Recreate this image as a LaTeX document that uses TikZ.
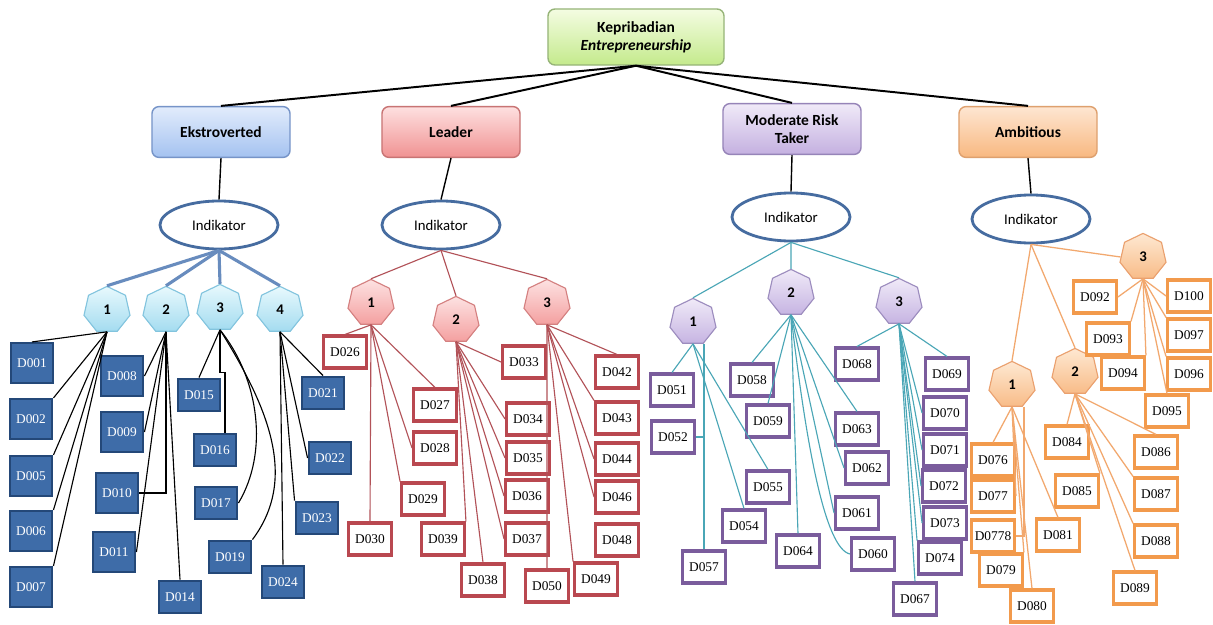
\documentclass[tikz,border=0pt]{standalone}
\usepackage{fontspec}
\setmainfont{Liberation Serif}
\newfontfamily\carlito{Carlito}
\usetikzlibrary{shapes.geometric}

\definecolor{RootTop}{RGB}{244,252,226}
\definecolor{RootBot}{RGB}{196,234,140}
\definecolor{RootLine}{RGB}{150,180,120}
\definecolor{EksTop}{RGB}{226,236,252}
\definecolor{EksBot}{RGB}{164,194,240}
\definecolor{EksLine}{RGB}{118,148,200}
\definecolor{LeadTop}{RGB}{254,224,224}
\definecolor{LeadBot}{RGB}{240,146,146}
\definecolor{LeadLine}{RGB}{200,116,116}
\definecolor{ModTop}{RGB}{240,234,248}
\definecolor{ModBot}{RGB}{196,176,224}
\definecolor{ModLine}{RGB}{150,132,184}
\definecolor{AmbTop}{RGB}{254,230,210}
\definecolor{AmbBot}{RGB}{248,184,128}
\definecolor{AmbLine}{RGB}{222,160,110}
\definecolor{IndLine}{RGB}{70,108,160}
\definecolor{HexBTop}{RGB}{232,249,253}
\definecolor{HexBBot}{RGB}{164,220,240}
\definecolor{HexBLine}{RGB}{130,196,222}
\definecolor{HexRTop}{RGB}{253,226,226}
\definecolor{HexRBot}{RGB}{244,160,160}
\definecolor{HexRLine}{RGB}{212,128,128}
\definecolor{HexPTop}{RGB}{240,234,248}
\definecolor{HexPBot}{RGB}{198,180,226}
\definecolor{HexPLine}{RGB}{156,140,190}
\definecolor{HexOTop}{RGB}{254,232,210}
\definecolor{HexOBot}{RGB}{248,188,136}
\definecolor{HexOLine}{RGB}{234,160,110}
\definecolor{DBlueFill}{RGB}{62,108,168}
\definecolor{DBlueLine}{RGB}{36,72,120}
\definecolor{DRed}{RGB}{185,72,80}
\definecolor{DPurple}{RGB}{122,92,156}
\definecolor{DOrange}{RGB}{242,154,76}
\definecolor{LineBlue}{RGB}{104,140,190}
\definecolor{LineRed}{RGB}{178,82,88}
\definecolor{LineTeal}{RGB}{74,166,182}
\definecolor{LineOrange}{RGB}{242,168,110}

\begin{document}
\begin{tikzpicture}[x=0.025cm, y=-0.025cm,
        rootbox/.style={rectangle, rounded corners=5pt, draw=RootLine, line width=1pt, top color=RootTop, bottom color=RootBot, minimum width=4.4cm, minimum height=1.4cm, align=center, font=\carlito\bfseries\fontsize{11}{13}\selectfont},
        catbox/.style={rectangle, rounded corners=5pt, draw=#1Line, line width=1pt, top color=#1Top, bottom color=#1Bot, minimum width=3.45cm, minimum height=1.27cm, align=center, font=\carlito\bfseries\fontsize{11}{13}\selectfont},
        indik/.style={ellipse, draw=IndLine, line width=2pt, fill=white, minimum width=2.95cm, minimum height=1.2cm, font=\carlito\fontsize{10.5}{12}\selectfont},
        hexa/.style={regular polygon, regular polygon sides=7, draw=Hex#1Line, line width=0.8pt, top color=Hex#1Top, bottom color=Hex#1Bot, minimum size=1.18cm, inner sep=0pt, font=\carlito\bfseries\fontsize{10.5}{12}\selectfont},
        dblue/.style={rectangle, draw=DBlueLine, line width=1.5pt, fill=DBlueFill, text=white, minimum width=1.07cm, minimum height=0.82cm, inner sep=1pt, font=\fontsize{9.5}{11}\selectfont},
        tall/.style={minimum height=1.0cm},
        dbox/.style={rectangle, draw=#1, line width=2.2pt, fill=white, minimum width=1.07cm, minimum height=0.8cm, inner sep=1pt, font=\fontsize{9.5}{11}\selectfont},
        topline/.style={line width=1.4pt, black},
        catline/.style={line width=1pt, black},
        bthick/.style={line width=2.2pt, LineBlue},
        bline/.style={line width=0.8pt, black},
        rline/.style={line width=0.8pt, LineRed},
        tline/.style={line width=0.8pt, LineTeal},
        oline/.style={line width=0.9pt, LineOrange}
    ]
    \useasboundingbox[fill=white] (0,0) rectangle (1213,625);

    \node[rootbox] (root) at (636,37) {Kepribadian\\\textit{Entrepreneurship}};
    \node[catbox=Eks] (eks) at (221,132) {Ekstroverted};
    \node[catbox=Lead] (lead) at (451,132) {Leader};
    \node[catbox=Mod] (mod) at (792,129) {Moderate Risk\\Taker};
    \node[catbox=Amb] (amb) at (1028,132) {Ambitious};
    \node[indik] (ind1) at (219,225) {Indikator};
    \node[indik] (ind2) at (441,225) {Indikator};
    \node[indik] (ind3) at (791,217) {Indikator};
    \node[indik] (ind4) at (1031,219) {Indikator};

    \node[hexa=B] (e1) at (107,310) {1};
    \node[hexa=B] (e2) at (166,310) {2};
    \node[hexa=B] (e3) at (220,308) {3};
    \node[hexa=B] (e4) at (280,310) {4};
    \node[hexa=R] (r1) at (371,303) {1};
    \node[hexa=R] (r2) at (456,320) {2};
    \node[hexa=R] (r3) at (547,303) {3};
    \node[hexa=P] (p1) at (693,322) {1};
    \node[hexa=P] (p2) at (791,293) {2};
    \node[hexa=P] (p3) at (899,302) {3};
    \node[hexa=O] (a1) at (1012,385) {1};
    \node[hexa=O] (a2) at (1075,372) {2};
    \node[hexa=O] (a3) at (1143,257) {3};

    \node[dblue, tall] (D001) at (32,363) {D001};
    \node[dblue, tall] (D002) at (31,419) {D002};
    \node[dblue, tall] (D005) at (31,476) {D005};
    \node[dblue, tall] (D006) at (31,531) {D006};
    \node[dblue, tall] (D007) at (31,587) {D007};
    \node[dblue, tall] (D008) at (122,376) {D008};
    \node[dblue, tall] (D009) at (122,432) {D009};
    \node[dblue, tall] (D010) at (117,493) {D010};
    \node[dblue, tall] (D011) at (114,552) {D011};
    \node[dblue] (D014) at (180,597) {D014};
    \node[dblue] (D015) at (199,395) {D015};
    \node[dblue] (D016) at (215,450) {D016};
    \node[dblue] (D017) at (216,503) {D017};
    \node[dblue] (D019) at (230,557) {D019};
    \node[dblue] (D021) at (323,393) {D021};
    \node[dblue] (D022) at (330,458) {D022};
    \node[dblue] (D023) at (317,518) {D023};
    \node[dblue] (D024) at (283,582) {D024};

    \node[dbox=DRed] (D026) at (345,352) {D026};
    \node[dbox=DRed] (D027) at (435,405) {D027};
    \node[dbox=DRed] (D028) at (435,448) {D028};
    \node[dbox=DRed] (D029) at (423,499) {D029};
    \node[dbox=DRed] (D030) at (370,539) {D030};
    \node[dbox=DRed] (D033) at (524,362) {D033};
    \node[dbox=DRed] (D034) at (528,419) {D034};
    \node[dbox=DRed] (D035) at (528,458) {D035};
    \node[dbox=DRed] (D036) at (527,496) {D036};
    \node[dbox=DRed] (D037) at (527,539) {D037};
    \node[dbox=DRed] (D038) at (483,580) {D038};
    \node[dbox=DRed] (D039) at (443,539) {D039};
    \node[dbox=DRed] (D042) at (617,372) {D042};
    \node[dbox=DRed] (D043) at (617,418) {D043};
    \node[dbox=DRed] (D044) at (617,459) {D044};
    \node[dbox=DRed] (D046) at (617,497) {D046};
    \node[dbox=DRed] (D048) at (617,540) {D048};
    \node[dbox=DRed] (D049) at (596,579) {D049};
    \node[dbox=DRed] (D050) at (547,586) {D050};

    \node[dbox=DPurple] (D051) at (672,390) {D051};
    \node[dbox=DPurple] (D052) at (673,437) {D052};
    \node[dbox=DPurple] (D054) at (744,526) {D054};
    \node[dbox=DPurple] (D055) at (768,487) {D055};
    \node[dbox=DPurple] (D057) at (704,567) {D057};
    \node[dbox=DPurple] (D058) at (752,380) {D058};
    \node[dbox=DPurple] (D059) at (768,421) {D059};
    \node[dbox=DPurple] (D060) at (873,554) {D060};
    \node[dbox=DPurple] (D061) at (857,513) {D061};
    \node[dbox=DPurple] (D062) at (867,468) {D062};
    \node[dbox=DPurple] (D063) at (857,429) {D063};
    \node[dbox=DPurple] (D064) at (798,551) {D064};
    \node[dbox=DPurple] (D067) at (915,599) {D067};
    \node[dbox=DPurple] (D068) at (857,364) {D068};
    \node[dbox=DPurple] (D069) at (947,374) {D069};
    \node[dbox=DPurple] (D070) at (945,413) {D070};
    \node[dbox=DPurple] (D071) at (945,450) {D071};
    \node[dbox=DPurple] (D072) at (944,486) {D072};
    \node[dbox=DPurple] (D073) at (945,523) {D073};
    \node[dbox=DPurple] (D074) at (940,558) {D074};

    \node[dbox=DOrange] (D076) at (993,460) {D076};
    \node[dbox=DOrange] (D077) at (993,496) {D077};
    \node[dbox=DOrange] (D0778) at (993,536) {D0778};
    \node[dbox=DOrange] (D079) at (1001,570) {D079};
    \node[dbox=DOrange] (D080) at (1032,606) {D080};
    \node[dbox=DOrange] (D081) at (1058,535) {D081};
    \node[dbox=DOrange] (D084) at (1067,442) {D084};
    \node[dbox=DOrange] (D085) at (1077,491) {D085};
    \node[dbox=DOrange] (D086) at (1156,452) {D086};
    \node[dbox=DOrange] (D087) at (1156,494) {D087};
    \node[dbox=DOrange] (D088) at (1156,541) {D088};
    \node[dbox=DOrange] (D089) at (1135,588) {D089};
    \node[dbox=DOrange] (D092) at (1095,297) {D092};
    \node[dbox=DOrange] (D093) at (1108,339) {D093};
    \node[dbox=DOrange] (D094) at (1123,373) {D094};
    \node[dbox=DOrange] (D095) at (1167,411) {D095};
    \node[dbox=DOrange] (D096) at (1189,374) {D096};
    \node[dbox=DOrange] (D097) at (1189,335) {D097};
    \node[dbox=DOrange] (D100) at (1189,296) {D100};

    \draw[topline] (root.south) -- (eks.north);
    \draw[topline] (root.south) -- (lead.north);
    \draw[topline] (root.south) -- (mod.north);
    \draw[topline] (root.south) -- (amb.north);
    \draw[catline] (eks.south) -- (ind1.north);
    \draw[catline] (lead.south) -- (ind2.north);
    \draw[catline] (mod.south) -- (ind3.north);
    \draw[catline] (amb.south) -- (ind4.north);

    \draw[bthick] (ind1.south) -- (e1.north);
    \draw[bthick] (ind1.south) -- (e2.north);
    \draw[bthick] (ind1.south) -- (e3.north);
    \draw[bthick] (ind1.south) -- (e4.north);
    \draw[bline] (e1.south) -- (D001.north);
    \draw[bline] (e1.south) -- (D002.north east);
    \draw[bline] (e1.south) -- (D005.north east);
    \draw[bline] (e1.south) -- (D006.north east);
    \draw[bline] (e1.south) -- (D007.north east);
    \draw[bline] (e2.south) -- (D008.east);
    \draw[bline] (e2.south) -- (D009.east);
    \draw[bline] (e2.south) |- (D010.east);
    \draw[bline] (e2.south) -- (D011.east);
    \draw[bline] (e2.south) -- (D014.north);
    \draw[bline] (e3.south) -- (D015.north);
    \draw[bline] (e3.south) -- ++(0,43) -| ([xshift=0.25cm]D016.north);
    \draw[bline] (e3.south) .. controls +(40,50) and +(30,-50) .. (D017.east);
    \draw[bline] (e3.south) .. controls +(50,80) and +(45,-60) .. (D019.north east);
    \draw[bline] (e4.south) -- (D021.north);
    \draw[bline] (e4.south) -- (D022.west);
    \draw[bline] (e4.south) -- (D023.north west);
    \draw[bline] (e4.south) -- (D024.north);

    \draw[rline] (ind2.south) -- (r1.north);
    \draw[rline] (ind2.south) -- (r2.north);
    \draw[rline] (ind2.south) -- (r3.north);
    \draw[rline] (r1.south) -- (D026.north);
    \draw[rline] (r1.south) -- (D027.north);
    \draw[rline] (r1.south) -- (D028.west);
    \draw[rline] (r1.south) -- (D029.north west);
    \draw[rline] (r1.south) -- (D030.north);
    \draw[rline] (r2.south) -- (D033.west);
    \draw[rline] (r2.south) -- (D034.west);
    \draw[rline] (r2.south) -- (D035.west);
    \draw[rline] (r2.south) -- (D036.west);
    \draw[rline] (r2.south) -- (D037.west);
    \draw[rline] (r2.south) -- (D038.north);
    \draw[rline] (r2.south) -- (D039.north east);
    \draw[rline] (r3.south) -- (D042.north);
    \draw[rline] (r3.south) -- (D043.north west);
    \draw[rline] (r3.south) -- (D044.west);
    \draw[rline] (r3.south) -- (D046.west);
    \draw[rline] (r3.south) -- (D049.north west);
    \draw[rline] (r3.south) -- (D050.north);

    \draw[tline] (ind3.south) -- (p1.north);
    \draw[tline] (ind3.south) -- (p2.north);
    \draw[tline] (ind3.south) -- (p3.north);
    \draw[tline] (p1.south) -- (D051.north);
    \draw[tline] (p1.south -| D057.north) |- (D052.east);
    \draw[tline] (p1.south -| D057.north) -- (D057.north);
    \draw[tline] (p1.south) -- (D054.north);
    \draw[tline] (p1.south) -- (D055.north);
    \draw[tline] (p2.south) -- (D058.north);
    \draw[tline] (p2.south) -- (D059.north);
    \draw[tline] (p2.south) -- (D063.north);
    \draw[tline] (p2.south) -- (D062.west);
    \draw[tline] (p2.south) -- (D061.west);
    \draw[tline] (p2.south) .. controls +(15,130) and +(-25,-5) .. (D060.west);
    \draw[tline] (p2.south) -- (D064.north);
    \draw[tline] (p3.south) -- (D068.north);
    \draw[tline] (p3.south) -- (D069.north);
    \draw[tline] (p3.south) -- (D070.west);
    \draw[tline] (p3.south) -- (D071.west);
    \draw[tline] (p3.south) -- (D072.west);
    \draw[tline] (p3.south) -- (D073.west);
    \draw[tline] (p3.south) -- (D074.north west);
    \draw[tline] (p3.south) -- (D067.north);

    \draw[oline] (ind4.south) -- (a1.north);
    \draw[oline] (ind4.south) -- (a2.north);
    \draw[oline] (ind4.south) -- (a3.west);
    \draw[oline] (a1.south) -- (D076.north);
    \draw[oline] (a1.south) -- (D077.east);
    \draw[oline] (a1.south -| D079.north east) |- (D0778.east);
    \draw[oline] (a1.south) -- (D079.north east);
    \draw[oline] (a1.south) -- (D080.north);
    \draw[oline] (a1.south) -- (D081.north);
    \draw[oline] (a2.south) -- (D084.north);
    \draw[oline] (a2.south) -- (D085.north east);
    \draw[oline] (a2.south) -- (D086.north);
    \draw[oline] (a2.south) -- (D087.north west);
    \draw[oline] (a2.south) -- (D088.north west);
    \draw[oline] (a2.south) -- (D089.north);
    \draw[oline] (a3.south) -- (D092.east);
    \draw[oline] (a3.south) -- (D093.north east);
    \draw[oline] (a3.south) -- (D094.north east);
    \draw[oline] (a3.south) -- (D095.north);
    \draw[oline] (a3.south) -- (D096.north west);
    \draw[oline] (a3.south) -- (D097.north west);
    \draw[oline] (a3.south) -- (D100.west);
\end{tikzpicture}
\end{document}
